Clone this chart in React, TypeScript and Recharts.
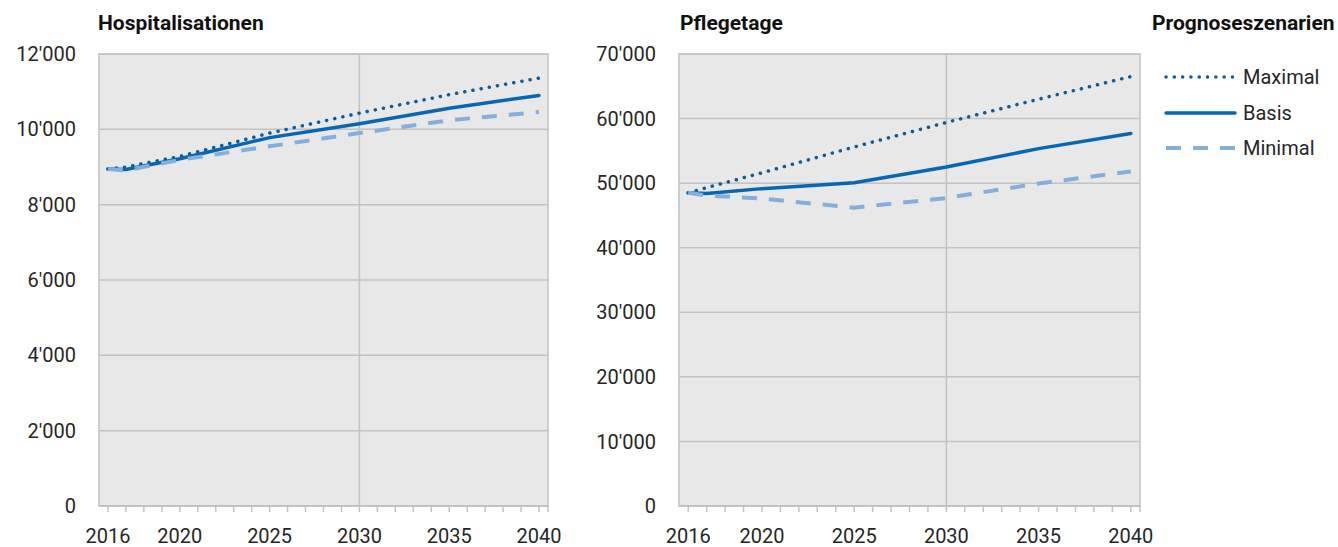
import {
  CartesianGrid,
  Line,
  LineChart,
  ReferenceArea,
  ReferenceLine,
  XAxis,
  YAxis,
} from "recharts";

const years = [2016, 2017, 2020, 2025, 2030, 2035, 2040];

const hospMaximal = [8950, 9000, 9280, 9900, 10430, 10920, 11360];
const hospBasis = [8950, 8935, 9220, 9780, 10150, 10560, 10900];
const hospMinimal = [8950, 8910, 9190, 9550, 9900, 10240, 10460];

const pflegeMaximal = [48500, 49300, 51600, 55600, 59400, 63000, 66500];
const pflegeBasis = [48500, 48400, 49150, 50050, 52500, 55350, 57700];
const pflegeMinimal = [48500, 48100, 47600, 46200, 47700, 49950, 51800];

const yearTicks = [
  2016, 2017, 2018, 2019, 2020, 2021, 2022, 2023, 2024, 2025, 2026, 2027, 2028,
  2029, 2030, 2031, 2032, 2033, 2034, 2035, 2036, 2037, 2038, 2039, 2040,
];
const labelYears = [2016, 2020, 2025, 2030, 2035, 2040];
const hospTicks = [0, 2000, 4000, 6000, 8000, 10000, 12000];
const pflegeTicks = [0, 10000, 20000, 30000, 40000, 50000, 60000, 70000];

const scenarios = ["Maximal", "Basis", "Minimal"];

const hospData = years.map((year, i) => ({
  year,
  Maximal: hospMaximal[i],
  Basis: hospBasis[i],
  Minimal: hospMinimal[i],
}));

const pflegeData = years.map((year, i) => ({
  year,
  Maximal: pflegeMaximal[i],
  Basis: pflegeBasis[i],
  Minimal: pflegeMinimal[i],
}));

const FONT = "Roboto, 'Noto Sans', sans-serif";
const TEXT = "#262626";
const GRID = "#c2c2c2";
const PLOT_BG = "#e8e8e8";

const lineStyles: Record<string, any> = {
  Maximal: { stroke: "#0b5c9c", strokeWidth: 3.5, strokeDasharray: "0.1 8.2", strokeLinecap: "round" },
  Basis: { stroke: "#0767b1", strokeWidth: 3.5, strokeDasharray: undefined, strokeLinecap: "round" },
  Minimal: { stroke: "#84afdd", strokeWidth: 4, strokeDasharray: "15 12", strokeLinecap: "butt" },
};

const fmt = (v: number) => String(v).replace(/\B(?=(\d{3})+(?!\d))/g, "'");

const Panel = ({ data, ticks, max, width, right }: any) => (
  <LineChart
    width={width}
    height={547}
    data={data}
    margin={{ top: 54, right, bottom: 0, left: 0 }}
  >
    <CartesianGrid
      vertical={false}
      stroke={GRID}
      strokeWidth={1.5}
      fill={PLOT_BG}
      fillOpacity={1}
    />
    <ReferenceLine x={2030} stroke={GRID} strokeWidth={1.5} />
    <ReferenceArea
      x1={2015.5}
      x2={2040.5}
      y1={0}
      y2={max}
      fill="none"
      stroke={GRID}
      strokeWidth={1.5}
    />
    <XAxis
      dataKey="year"
      type="number"
      domain={[2015.5, 2040.5]}
      ticks={[...yearTicks, 2040.5]}
      interval={0}
      height={41}
      tickSize={6}
      tickMargin={17}
      axisLine={{ stroke: GRID, strokeWidth: 1.5 }}
      tickLine={{ stroke: GRID, strokeWidth: 1.5 }}
      tickFormatter={(v: number) => (labelYears.includes(v) ? String(v) : "")}
      tick={{ fill: TEXT, fontSize: 20, fontFamily: FONT }}
    />
    <YAxis
      type="number"
      domain={[0, max]}
      ticks={ticks}
      interval={0}
      width={99}
      tickSize={0}
      tickMargin={23}
      axisLine={false}
      tickLine={false}
      tickFormatter={fmt}
      tick={{ fill: TEXT, fontSize: 20, fontFamily: FONT }}
    />
    {scenarios.map((s) => (
      <Line
        key={s}
        type="linear"
        dataKey={s}
        dot={false}
        isAnimationActive={false}
        {...lineStyles[s]}
      />
    ))}
  </LineChart>
);

const titleStyle: any = {
  position: "absolute",
  top: 11,
  fontFamily: FONT,
  fontWeight: 700,
  fontSize: 21,
  lineHeight: "24px",
  color: "#111",
  whiteSpace: "nowrap",
};

export default function App() {
  return (
    <div
      style={{
        position: "absolute",
        left: 0,
        top: 0,
        width: 1338,
        height: 547,
        background: "#fff",
        overflow: "hidden",
      }}
    >
      <div style={{ position: "absolute", left: 0, top: 0 }}>
        <Panel data={hospData} ticks={hospTicks} max={12000} width={580} right={32} />
      </div>
      <div style={{ position: "absolute", left: 580, top: 0 }}>
        <Panel data={pflegeData} ticks={pflegeTicks} max={70000} width={580} right={20} />
      </div>
      <div style={{ ...titleStyle, left: 98 }}>Hospitalisationen</div>
      <div style={{ ...titleStyle, left: 680 }}>Pflegetage</div>
      <div style={{ ...titleStyle, left: 1152 }}>Prognoseszenarien</div>
      {scenarios.map((s, i) => (
        <div
          key={s}
          style={{
            position: "absolute",
            left: 1163,
            top: 65 + i * 35.5,
            height: 24,
            display: "flex",
            alignItems: "center",
            fontFamily: FONT,
            fontSize: 20,
            color: TEXT,
          }}
        >
          <svg width={74} height={10} style={{ marginRight: 6 }}>
            <line x1={3} y1={5} x2={72} y2={5} {...lineStyles[s]} />
          </svg>
          {s}
        </div>
      ))}
    </div>
  );
}
